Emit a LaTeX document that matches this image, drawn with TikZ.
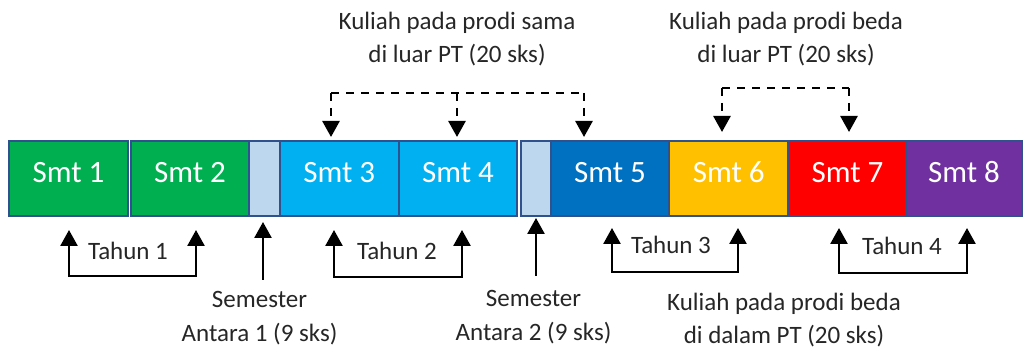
\documentclass[tikz,border=0pt]{standalone}
\usepackage{fontspec}
\setmainfont{Carlito}
\usetikzlibrary{arrows.meta}

\definecolor{smtgreen}{HTML}{00B050}
\definecolor{smtcyan}{HTML}{00B0F0}
\definecolor{smtblue}{HTML}{0070C0}
\definecolor{smtgold}{HTML}{FFC000}
\definecolor{smtred}{HTML}{FF0000}
\definecolor{smtpurple}{HTML}{7030A0}
\definecolor{antara}{HTML}{BDD7EE}
\definecolor{rim}{HTML}{2F528F}
\definecolor{ink}{HTML}{262626}

\tikzset{
  smt/.style={draw=rim, line width=0.9pt, minimum height=37.5pt, minimum width=59.25pt,
    inner sep=0pt, text=white, text height=10pt, text depth=6pt,
    font=\fontsize{15.5}{18}\selectfont},
  sa/.style={smt, fill=antara, minimum width=15pt},
  lbl/.style={text=ink, align=center, inner sep=0pt, font=\fontsize{12.5}{16.75}\selectfont},
  uparr/.style={line width=1.3pt, -{Triangle[width=8.5pt,length=8pt]}},
  twoarr/.style={line width=1.3pt, {Triangle[width=8.5pt,length=8pt]}-{Triangle[width=8.5pt,length=8pt]}},
  dashln/.style={line width=1.3pt, dash pattern=on 4pt off 3.5pt},
  dasharr/.style={dashln, -{Triangle[width=8.5pt,length=8pt]}}
}

\begin{document}
\begin{tikzpicture}[x=0.5pt,y=-0.5pt]
\useasboundingbox (0,0) rectangle (1024,356);

% semesters
\node [smt, fill=smtgreen] (s1) at (68.5,178.5) {Smt 1};
\node [smt, fill=smtgreen] (s2) at (190,178.5) {Smt 2};
\node [sa] (a1) at (264.5,178.5) {};
\node [smt, fill=smtcyan] (s3) at (339.25,178.5) {Smt 3};
\node [smt, fill=smtcyan] (s4) at (458,178.5) {Smt 4};
\node [sa] (a2) at (536,178.5) {};
\node [smt, fill=smtblue] (s5) at (610,178.5) {Smt 5};
\node [smt, fill=smtgold] (s6) at (728.75,178.5) {Smt 6};
\node [smt, fill=smtred] (s7) at (847.5,178.5) {Smt 7};
\node [smt, fill=smtpurple, minimum width=58pt] (s8) at (964,178.5) {Smt 8};

% texts
\node [lbl] (k1) at (457,39) {Kuliah pada prodi sama\\di luar PT (20 sks)};
\node [lbl] (k2) at (786,39) {Kuliah pada prodi beda\\di luar PT (20 sks)};
\node [lbl] (k3) at (784,320) {Kuliah pada prodi beda\\di dalam PT (20 sks)};
\node [lbl] (e1) at (259.5,318) {Semester\\Antara 1 (9 sks)};
\node [lbl] (e2) at (533.5,317) {Semester\\Antara 2 (9 sks)};
\node [lbl] (y1) at (128,251) {Tahun 1};
\node [lbl] (y2) at (397,251) {Tahun 2};
\node [lbl] (y3) at (671,245) {Tahun 3};
\node [lbl] (y4) at (902,246) {Tahun 4};

% year brackets
\coordinate (v1) at (69,230);
\coordinate (v2) at (196,230);
\coordinate (v3) at (69,276);
\coordinate (v4) at (334,230);
\coordinate (v5) at (462,230);
\coordinate (v6) at (334,277);
\coordinate (v7) at (612,228);
\coordinate (v8) at (738,228);
\coordinate (v9) at (612,272);
\coordinate (v10) at (839,228);
\coordinate (v11) at (967,228);
\coordinate (v12) at (839,273);
\draw [twoarr] (v1) -- (v3) -| (v2);
\draw [twoarr] (v4) -- (v6) -| (v5);
\draw [twoarr] (v7) -- (v9) -| (v8);
\draw [twoarr] (v10) -- (v12) -| (v11);

% semester antara
\coordinate (w1) at (263,280);
\coordinate (w2) at (263,222);
\coordinate (w3) at (536,276);
\coordinate (w4) at (536,218);
\draw [uparr] (w1) -- (w2);
\draw [uparr] (w3) -- (w4);

% dashed links
\coordinate (d1) at (331,93);
\coordinate (d2) at (457,93);
\coordinate (d3) at (584,93);
\coordinate (t1) at (331,137);
\coordinate (t2) at (457,137);
\coordinate (t3) at (584,137);
\draw [dashln] (d1) -- (d3);
\draw [dasharr] (d1) -- (t1);
\draw [dasharr] (d2) -- (t2);
\draw [dasharr] (d3) -- (t3);
\coordinate (d4) at (722,88);
\coordinate (d5) at (849,88);
\coordinate (t4) at (722,132);
\coordinate (t5) at (849,132);
\draw [dashln] (d4) -- (d5);
\draw [dasharr] (d4) -- (t4);
\draw [dasharr] (d5) -- (t5);
\end{tikzpicture}
\end{document}
